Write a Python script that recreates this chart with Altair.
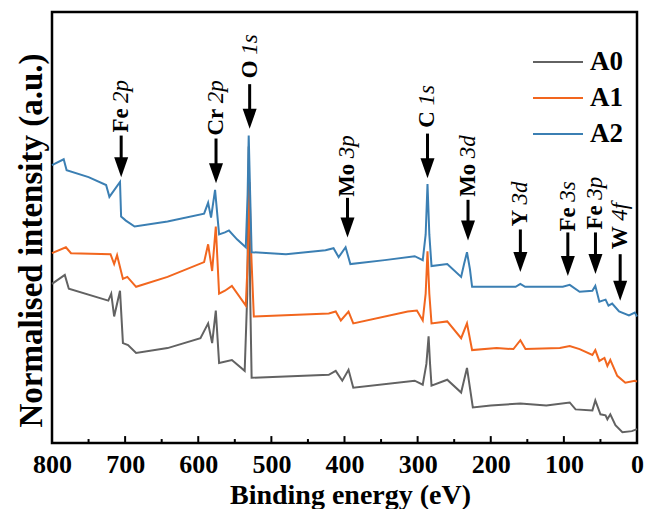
import altair as alt
import pandas as pd

series = ["A0", "A1", "A2"]
colors = ["#626262", "#F2661E", "#3B7FB3"]

# ---- spectra (binding energy in eV, intensity in arbitrary units) ----
a0_be = [800, 782.5, 777, 723, 719, 715, 707, 703, 696, 685, 642, 597, 586.5, 581, 576, 571.5, 554, 536.5, 533, 531, 529, 527,
         421.5, 412, 403, 394.5, 388, 304, 293, 288, 285, 283, 281, 259.5, 240.5, 232.5, 224.5, 200, 159.5, 124, 92, 84,
         61, 57, 50, 43, 40.5, 36.5, 29.5, 20, 7, 0]
a0_int = [161, 170, 156, 144, 151, 128, 154, 101, 99, 91, 96, 106, 121, 101, 134, 81, 84, 73, 150, 300, 150, 66,
          69, 73, 63, 74, 56, 63, 59, 80, 108, 80, 58, 64, 51, 76, 36, 38, 40, 38, 41, 34,
          33, 43, 29, 28, 24, 29, 18, 11, 12, 14]

a1_be = [800, 781, 774, 720, 715, 711, 703, 697, 685, 642, 592, 586.5, 581, 576, 571.5, 563.5, 554, 535, 532, 530, 528, 524,
         421.5, 412, 405, 394.5, 388, 313.5, 301, 293, 289, 286.5, 284, 281, 259.5, 240.5, 232.5, 225.5, 192, 169, 159.5,
         152.5, 105.5, 92, 78.5, 61, 57, 51.5, 44.5, 40.5, 36.5, 27, 16, 3, 0]
a1_int = [192, 198, 192, 191, 181, 190, 166, 168, 158, 168, 183, 201, 174, 219, 151, 154, 159, 139, 190, 264, 200, 128,
          131, 133, 124, 133, 121, 133, 134, 124, 151, 194, 151, 121, 123, 106, 121, 94, 96, 95, 104,
          95, 96, 98, 95, 89, 94, 83, 86, 78, 84, 68, 61, 63, 62]

a2_be = [800, 784, 780, 750, 726, 721.5, 707, 705.5, 699, 687, 642, 592, 586.5, 582.5, 577, 571.5, 563.5, 558, 547, 535,
         532.5, 531, 529, 527, 480, 426, 415, 408, 398.5, 392, 345, 304, 293, 289, 286.5, 284, 281, 259.5, 240.5, 236.5,
         232.5, 228.5, 225.5, 166, 159.5, 153, 101.5, 92, 78.5, 61, 57, 51.5, 43, 39, 34, 24.5, 11, 3, 0]
a2_int = [281, 287, 276, 269, 261, 249, 264, 229, 225, 219, 224, 232, 243, 228, 256, 211, 213, 215, 206, 198,
          251, 311, 251, 193, 191, 195, 197, 188, 198, 181, 185, 189, 185, 211, 262, 211, 179, 181, 168, 181,
          193, 176, 158, 158, 161, 158, 158, 160, 153, 154, 159, 143, 145, 139, 141, 133, 129, 132, 128]

# ---- peak annotations ----
ann_elem = ["Fe", "Cr", "O", "Mo", "C", "Mo", "Y", "Fe", "Fe", "W"]
ann_orb = ["2p", "2p", "1s", "3p", "1s", "3d", "3d", "3s", "3p", "4f"]
ann_be = [705.4, 575.7, 529.7, 395.9, 286.5, 231.1, 159.5, 94.6, 56.8, 23.0]
ann_text = [314, 311, 369, 249, 319, 249, 219, 214, 216, 196]
ann_top = [311, 308, 363, 248, 313, 246, 216, 213, 213, 191]
ann_tip = [269, 263, 318, 208, 268, 205, 173, 169, 171, 144]

major_ticks = [0, 100, 200, 300, 400, 500, 600, 700, 800]
minor_ticks = [50, 150, 250, 350, 450, 550, 650, 750]

FONT = "Liberation Serif"
ANN_SIZE = 23
# advance widths (em) of Times-compatible bold glyphs, to place the italic part after the element name
glyph_w = {"F": 0.611, "e": 0.444, "C": 0.722, "r": 0.444, "O": 0.778, "M": 0.944, "o": 0.5,
           "Y": 0.722, "W": 1.0, " ": 0.25}

rows = []
for name, bes, ints in [("A0", a0_be, a0_int), ("A1", a1_be, a1_int), ("A2", a2_be, a2_int)]:
    for b, v in zip(bes, ints):
        rows.append({"series": name, "be": b, "int": v})
spec = pd.DataFrame(rows)

ann = pd.DataFrame({"elem": ann_elem, "orb": ann_orb, "be": ann_be, "text_y": ann_text,
                    "top": ann_top, "tip": ann_tip})
ann["head"] = ann["tip"] + 10
ann["rule_end"] = ann["tip"] + 12
ann["orb_y"] = ann["text_y"] + [sum(glyph_w[c] for c in e + " ") * ANN_SIZE for e in ann_elem]

ticks = pd.DataFrame({"be": major_ticks + minor_ticks,
                      "zero": [0] * (len(major_ticks) + len(minor_ticks)),
                      "len": [7] * len(major_ticks) + [4] * len(minor_ticks)})

xscale = alt.Scale(domain=[0, 800], reverse=True, nice=False)
yscale = alt.Scale(domain=[0, 436], nice=False, zero=False)

x_axis = alt.Axis(values=major_ticks, format="d", ticks=False, tickSize=0, domain=False, grid=False,
                  labelFont=FONT, labelFontSize=26, labelFontWeight="bold", labelColor="black",
                  labelPadding=8, labelFlush=False, labelOverlap=False,
                  title="Binding energy (eV)", titleFont=FONT, titleFontSize=28, titleFontWeight="bold",
                  titleColor="black", titleX=298, titleY=60, titleBaseline="alphabetic",
                  titleAlign="center")
y_axis = alt.Axis(labels=False, ticks=False, domain=False, grid=False,
                  title="Normalised intensity (a.u.)", titleFont=FONT, titleFontSize=33,
                  titleFontWeight="bold", titleColor="black", titleAngle=270, titleX=-11,
                  titleY=228, titleBaseline="alphabetic", titleAlign="center")


def X(field):
    return alt.X(field, type="quantitative", scale=xscale, axis=x_axis)


def Y(field):
    return alt.Y(field, type="quantitative", scale=yscale, axis=y_axis)


lines = alt.Chart(spec).mark_line(strokeWidth=2).encode(
    x=X("be"),
    y=Y("int"),
    color=alt.Color("series:N", scale=alt.Scale(domain=series, range=colors),
                    legend=alt.Legend(title=None, orient="none", legendX=480, legendY=37,
                                      symbolType="stroke", symbolSize=2500, symbolStrokeWidth=2,
                                      clipHeight=26, rowPadding=9, labelFont=FONT, labelFontSize=27,
                                      labelFontWeight="bold", labelColor="black", labelOffset=6,
                                      padding=0)),
)

tick_marks = alt.Chart(ticks).mark_rule(color="black", strokeWidth=2).encode(
    x=X("be"),
    y=Y("zero"),
    y2="len:Q",
)

arrow_lines = alt.Chart(ann).mark_rule(color="black", strokeWidth=3).encode(
    x=X("be"),
    y=Y("top"),
    y2="rule_end:Q",
)

heads = alt.Chart(ann).mark_point(shape="M-0.7,-1L0.7,-1L0,1Z", size=400, filled=True,
                                  color="black", opacity=1, strokeWidth=0).encode(
    x=X("be"),
    y=Y("head"),
)

elem_text = alt.Chart(ann).mark_text(angle=270, align="left", baseline="middle", font=FONT,
                                     fontSize=ANN_SIZE, fontWeight="bold", color="black").encode(
    x=X("be"),
    y=Y("text_y"),
    text="elem:N",
)

orb_text = alt.Chart(ann).mark_text(angle=270, align="left", baseline="middle", font=FONT,
                                    fontSize=ANN_SIZE, fontWeight="normal", fontStyle="italic",
                                    color="black").encode(
    x=X("be"),
    y=Y("orb_y"),
    text="orb:N",
)

chart = alt.layer(lines, tick_marks, arrow_lines, heads, elem_text, orb_text).properties(
    width=585, height=431,
    autosize=alt.AutoSizeParams(type="none"),
    padding={"left": 44, "top": 4, "right": 8, "bottom": 66},
).configure_view(stroke="black", strokeWidth=2.5)

chart.save("out.html", embed_options={"renderer": "svg", "actions": False})
